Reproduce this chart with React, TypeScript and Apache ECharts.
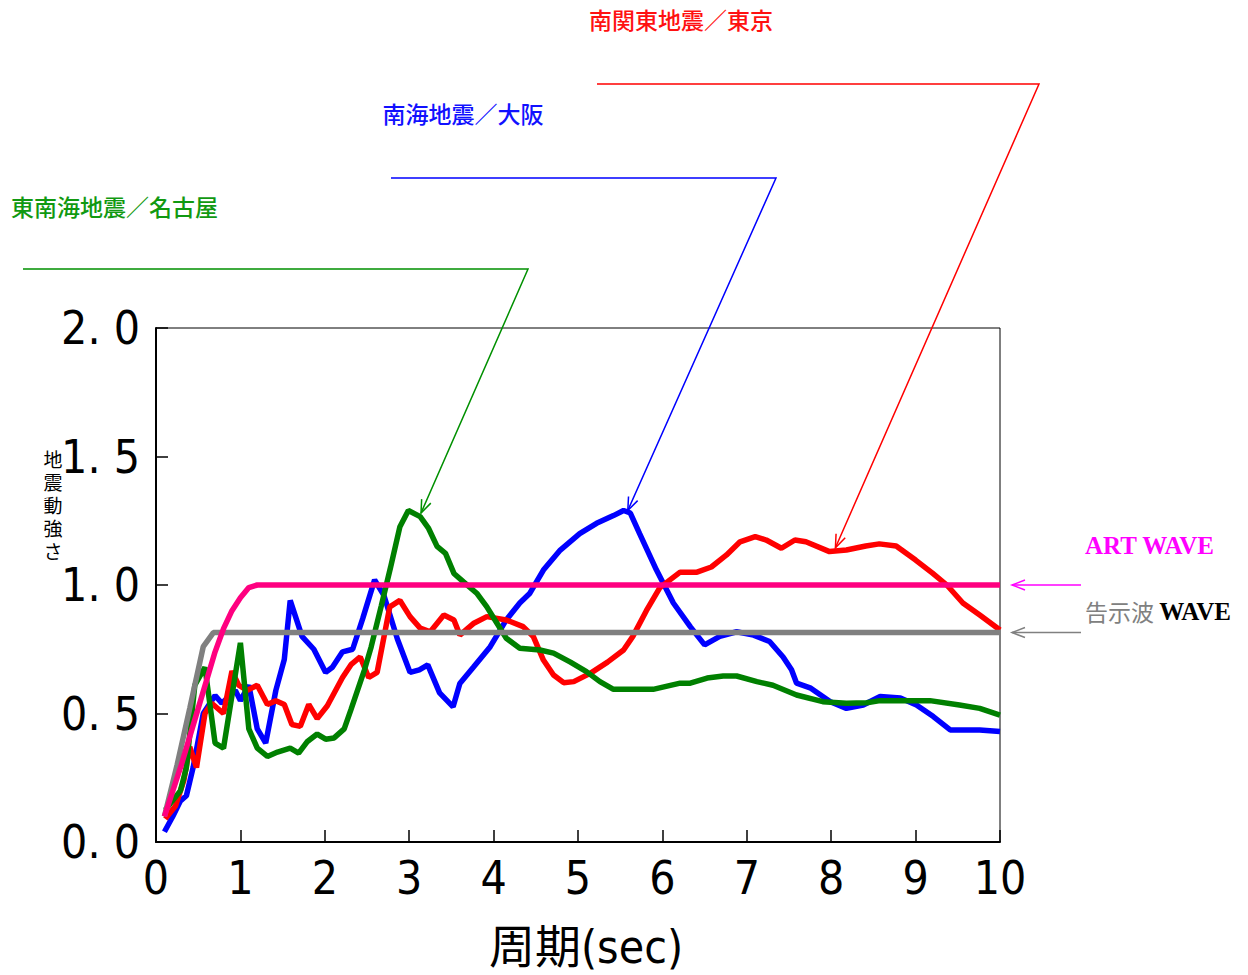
import React, { useEffect, useRef } from "react";
import * as echarts from "echarts";

const xTicks = [0, 1, 2, 3, 4, 5, 6, 7, 8, 9, 10];
const yTicks = [0, 0.5, 1.0, 1.5, 2.0];

const artWave = [[0.1,0.1],[0.2,0.2],[0.3,0.3],[0.4,0.41],[0.5,0.52],[0.6,0.63],[0.7,0.74],[0.8,0.83],[0.9,0.9],[1.0,0.95],[1.1,0.99],[1.2,1.0],[10,1.0]];
const kokujiWave = [[0.1,0.1],[0.25,0.3],[0.4,0.52],[0.56,0.76],[0.68,0.815],[10,0.815]];
const osaka = [[0.1,0.04],[0.2,0.1],[0.29,0.16],[0.36,0.18],[0.44,0.29],[0.56,0.5],[0.7,0.57],[0.78,0.54],[0.94,0.59],[1.0,0.55],[1.1,0.61],[1.2,0.44],[1.3,0.385],[1.42,0.59],[1.52,0.71],[1.59,0.94],[1.73,0.8],[1.87,0.75],[2.01,0.66],[2.09,0.68],[2.21,0.74],[2.33,0.75],[2.45,0.87],[2.59,1.02],[2.7,0.96],[2.86,0.79],[3.01,0.66],[3.12,0.67],[3.22,0.689],[3.36,0.58],[3.52,0.526],[3.6,0.617],[3.76,0.68],[3.96,0.76],[4.15,0.864],[4.31,0.93],[4.43,0.968],[4.59,1.058],[4.79,1.136],[5.02,1.2],[5.22,1.24],[5.42,1.27],[5.54,1.29],[5.62,1.28],[5.73,1.2],[5.93,1.058],[6.13,0.93],[6.33,0.838],[6.5,0.767],[6.68,0.8],[6.88,0.818],[7.08,0.805],[7.27,0.78],[7.43,0.72],[7.53,0.67],[7.59,0.618],[7.75,0.6],[7.99,0.546],[8.18,0.52],[8.38,0.533],[8.58,0.566],[8.82,0.56],[9.01,0.533],[9.21,0.488],[9.41,0.436],[9.76,0.436],[10,0.43]];
const tokyo = [[0.11,0.09],[0.23,0.14],[0.33,0.24],[0.4,0.37],[0.48,0.29],[0.58,0.5],[0.66,0.54],[0.8,0.5],[0.9,0.665],[0.98,0.61],[1.08,0.59],[1.2,0.61],[1.32,0.535],[1.42,0.55],[1.52,0.535],[1.61,0.457],[1.71,0.45],[1.81,0.535],[1.91,0.48],[2.03,0.53],[2.21,0.64],[2.31,0.69],[2.42,0.72],[2.52,0.64],[2.62,0.66],[2.77,0.915],[2.89,0.94],[3.01,0.877],[3.13,0.832],[3.25,0.818],[3.41,0.883],[3.53,0.864],[3.6,0.805],[3.76,0.85],[3.92,0.877],[4.15,0.864],[4.35,0.838],[4.47,0.8],[4.59,0.708],[4.71,0.65],[4.83,0.62],[4.95,0.624],[5.15,0.657],[5.35,0.7],[5.54,0.747],[5.65,0.8],[5.81,0.9],[5.97,0.99],[6.21,1.05],[6.41,1.05],[6.58,1.07],[6.76,1.117],[6.92,1.168],[7.1,1.188],[7.23,1.175],[7.41,1.143],[7.57,1.175],[7.7,1.168],[7.98,1.13],[8.18,1.136],[8.41,1.152],[8.57,1.16],[8.77,1.152],[9.0,1.097],[9.2,1.046],[9.37,1.0],[9.56,0.93],[9.76,0.883],[10,0.825]];
const nagoya = [[0.11,0.125],[0.29,0.2],[0.36,0.29],[0.46,0.61],[0.58,0.68],[0.7,0.385],[0.8,0.365],[1.0,0.775],[1.1,0.44],[1.2,0.365],[1.32,0.333],[1.44,0.35],[1.59,0.365],[1.69,0.346],[1.79,0.39],[1.91,0.42],[2.01,0.4],[2.11,0.405],[2.23,0.44],[2.31,0.515],[2.47,0.67],[2.55,0.76],[2.67,0.92],[2.78,1.07],[2.89,1.227],[2.99,1.29],[3.13,1.266],[3.23,1.22],[3.33,1.15],[3.43,1.123],[3.53,1.045],[3.64,1.013],[3.8,0.968],[3.92,0.915],[4.04,0.851],[4.15,0.793],[4.31,0.754],[4.55,0.747],[4.71,0.735],[4.91,0.7],[5.1,0.663],[5.26,0.624],[5.42,0.594],[5.89,0.594],[6.21,0.618],[6.33,0.618],[6.53,0.638],[6.72,0.646],[6.88,0.646],[7.12,0.624],[7.31,0.61],[7.59,0.572],[7.9,0.546],[8.18,0.54],[8.42,0.542],[8.58,0.55],[9.17,0.55],[9.52,0.533],[9.76,0.52],[10,0.494]];

// callout targets (data coordinates the arrows point at)
const tokyoTarget = [8.05, 1.145];
const osakaTarget = [5.59, 1.29];
const nagoyaTarget = [3.14, 1.28];

const yAxisNameChars = ["地", "震", "動", "強", "さ"];

const NARROW = "'Liberation Sans Narrow', 'DejaVu Sans Condensed', 'Noto Sans CJK JP', sans-serif";
const CJK = "'Noto Sans CJK JP', sans-serif";
const SERIF = "'Liberation Serif', 'Times New Roman', serif";

function arrowHead(tip: number[], from: number[], color: string, len = 13, w = 5, lw = 1.5) {
  const dx = tip[0] - from[0];
  const dy = tip[1] - from[1];
  const d = Math.sqrt(dx * dx + dy * dy);
  const ux = dx / d, uy = dy / d;
  const bx = tip[0] - ux * len, by = tip[1] - uy * len;
  return {
    type: "polyline",
    shape: { points: [[bx - uy * w, by + ux * w], tip, [bx + uy * w, by - ux * w]] },
    style: { stroke: color, lineWidth: lw, fill: null },
    z: 10,
  };
}

export default function App() {
  const ref = useRef<HTMLDivElement>(null);
  useEffect(() => {
    const chart = echarts.init(ref.current!, null, { renderer: "svg" });
    const lineSeries = (name: string, data: number[][], color: string) => ({
      name,
      type: "line",
      data,
      showSymbol: false,
      symbol: "none",
      lineStyle: { color, width: 5.5 },
      itemStyle: { color },
    });
    chart.setOption({
      animation: false,
      backgroundColor: "#ffffff",
      grid: { left: 156, top: 328, width: 844, height: 514, show: true, borderColor: "#000", borderWidth: 1, backgroundColor: "transparent" },
      xAxis: {
        type: "value", min: xTicks[0], max: xTicks[xTicks.length - 1], interval: 1,
        axisLine: { lineStyle: { color: "#000", width: 2 } },
        axisTick: { inside: true, length: 12, lineStyle: { color: "#000", width: 1.5 } },
        splitLine: { show: false },
        axisLabel: { color: "#000", fontSize: 46, fontFamily: NARROW, margin: 13 },
      },
      yAxis: {
        type: "value", min: yTicks[0], max: yTicks[yTicks.length - 1], interval: 0.5,
        axisLine: { lineStyle: { color: "#000", width: 2 } },
        axisTick: { inside: true, length: 12, lineStyle: { color: "#000", width: 1.5 } },
        splitLine: { show: false },
        axisLabel: {
          color: "#000", fontSize: 46, fontFamily: NARROW, margin: 16,
          formatter: (v: number) => v.toFixed(1).replace(".", ". "),
        },
      },
      series: [
        lineSeries("南海地震／大阪", osaka, "#0000ff"),
        lineSeries("南関東地震／東京", tokyo, "#ff0000"),
        lineSeries("東南海地震／名古屋", nagoya, "#008000"),
        lineSeries("告示波 WAVE", kokujiWave, "#808080"),
        lineSeries("ART WAVE", artWave, "#ff0080"),
      ],
    });

    const px = (p: number[]) => chart.convertToPixel({ xAxisIndex: 0, yAxisIndex: 0 }, p) as number[];
    const tTip = px(tokyoTarget);
    const oTip = px(osakaTarget);
    const nTip = px(nagoyaTarget);
    const artY = px([0, artWave[artWave.length - 1][1]])[1];
    const kokY = px([0, kokujiWave[kokujiWave.length - 1][1]])[1];

    const callout = (start: number[], corner: number[], tip: number[], color: string) => [
      { type: "polyline", shape: { points: [start, corner, tip] }, style: { stroke: color, lineWidth: 1.5, fill: null }, z: 10 },
      arrowHead(tip, corner, color),
    ];

    chart.setOption({
      graphic: [
        ...callout([597, 84], [1039, 84], tTip, "#ff0000"),
        ...callout([391, 178], [776, 178], oTip, "#0000ff"),
        ...callout([23, 269], [528, 269], nTip, "#009000"),
        { type: "text", x: 681, y: 19, style: { text: "南関東地震／東京", fill: "#ff1111", font: `500 23px ${CJK}`, align: "center", verticalAlign: "middle" } },
        { type: "text", x: 463, y: 113, style: { text: "南海地震／大阪", fill: "#1111ff", font: `500 23px ${CJK}`, align: "center", verticalAlign: "middle" } },
        { type: "text", x: 11, y: 206, style: { text: "東南海地震／名古屋", fill: "#119911", font: `500 23px ${CJK}`, align: "left", verticalAlign: "middle" } },
        { type: "line", shape: { x1: 1081, y1: artY, x2: 1012, y2: artY }, style: { stroke: "#ff00ff", lineWidth: 1.5 } },
        arrowHead([1012, artY], [1081, artY], "#ff00ff", 13, 5),
        { type: "line", shape: { x1: 1081, y1: kokY, x2: 1012, y2: kokY }, style: { stroke: "#808080", lineWidth: 1.5 } },
        arrowHead([1012, kokY], [1081, kokY], "#808080", 13, 5),
        { type: "text", x: 1085, y: 545, style: { text: "ART WAVE", fill: "#ff00ff", font: `bold 25px ${SERIF}`, align: "left", verticalAlign: "middle" } },
        {
          type: "text", x: 1085, y: 611,
          style: {
            text: "{g|告示波 }{w|WAVE}", align: "left", verticalAlign: "middle",
            rich: {
              g: { fill: "#808080", fontFamily: CJK, fontSize: 23 },
              w: { fill: "#000", fontFamily: SERIF, fontSize: 25, fontWeight: "bold" },
            },
          },
        },
        ...yAxisNameChars.map((ch, i) => ({
          type: "text", x: 53, y: 458 + i * 23,
          style: { text: ch, fill: "#000", font: `19px ${CJK}`, lineHeight: 19, align: "center", verticalAlign: "middle" },
        })),
        { type: "text", x: 586, y: 947, style: { text: "周期(sec)", fill: "#000", font: `46px ${NARROW}`, lineHeight: 46, align: "center", verticalAlign: "middle" } },
      ],
    });
    return () => chart.dispose();
  }, []);
  return <div ref={ref} style={{ position: "fixed", left: 0, top: 0, width: 1248, height: 975, background: "#fff" }} />;
}
